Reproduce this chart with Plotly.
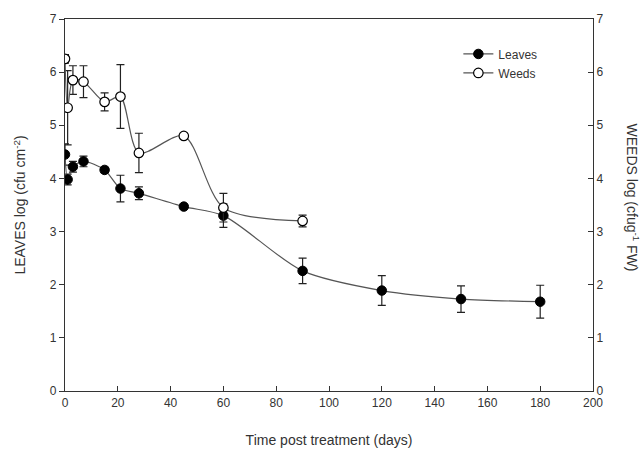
import plotly.graph_objects as go

leaves_x = [0, 1, 3, 7, 15, 21, 28, 45, 60, 90, 120, 150, 180]
leaves_y = [4.45, 3.98, 4.22, 4.32, 4.16, 3.81, 3.72, 3.47, 3.30, 2.26, 1.89, 1.73, 1.68]
leaves_err = [0.2, 0.1, 0.1, 0.1, 0.05, 0.25, 0.12, 0.04, 0.22, 0.24, 0.28, 0.25, 0.31]

weeds_x = [0, 1, 3, 7, 15, 21, 28, 45, 60, 90]
weeds_y = [6.25, 5.33, 5.85, 5.82, 5.44, 5.54, 4.48, 4.80, 3.45, 3.20]
weeds_err = [0.08, 0.7, 0.27, 0.3, 0.17, 0.6, 0.37, 0.05, 0.27, 0.11]

x_ticks = [0, 20, 40, 60, 80, 100, 120, 140, 160, 180, 200]
y_ticks = [0, 1, 2, 3, 4, 5, 6, 7]

FONT = "Liberation Sans, Arial, sans-serif"
TXT = "#333333"

fig = go.Figure()
fig.add_trace(go.Scatter(
    x=leaves_x, y=leaves_y, name="Leaves", mode="lines+markers",
    line=dict(color="#555555", width=1.2, shape="spline", smoothing=0.8),
    marker=dict(symbol="circle", size=9.5, color="black", line=dict(color="black", width=1)),
    error_y=dict(type="data", array=leaves_err, color="#222222", thickness=1.2, width=4),
))
fig.add_trace(go.Scatter(
    x=weeds_x, y=weeds_y, name="Weeds", mode="lines+markers", yaxis="y2",
    line=dict(color="#555555", width=1.2, shape="spline", smoothing=0.8),
    marker=dict(symbol="circle", size=9.5, color="white", line=dict(color="black", width=1.2)),
    error_y=dict(type="data", array=weeds_err, color="#222222", thickness=1.2, width=4),
))

fig.update_layout(
    width=642, height=461,
    margin=dict(l=65, r=49, t=14, b=70),
    paper_bgcolor="white", plot_bgcolor="white",
    font=dict(family=FONT, size=12, color=TXT),
    showlegend=True,
    legend=dict(x=0.745, y=0.945, xanchor="left", yanchor="top",
                bgcolor="rgba(0,0,0,0)", font=dict(size=12, color=TXT),
                tracegroupgap=4, itemwidth=30),
    xaxis=dict(range=[0, 200], tickvals=x_ticks, ticks="inside", ticklen=5,
               showgrid=False, zeroline=False, showline=True, linecolor="#333333",
               linewidth=1.2, mirror=True, tickcolor="#333333",
               title=dict(text="Time post treatment (days)", font=dict(size=14), standoff=26)),
    yaxis=dict(range=[0, 7], tickvals=y_ticks, ticks="outside", ticklen=5,
               showgrid=False, zeroline=False, showline=True, linecolor="#333333",
               linewidth=1.2, tickcolor="#333333",
               title=dict(text="LEAVES log (cfu cm<sup>-2</sup>)", font=dict(size=14), standoff=20)),
    yaxis2=dict(range=[0, 7], tickvals=y_ticks, ticks="inside", ticklen=5,
                overlaying="y", side="right", anchor="x",
                showgrid=False, zeroline=False, showline=True, linecolor="#333333",
                linewidth=1.2, tickcolor="#333333"),
    annotations=[dict(text="WEEDS log (cfug<sup>-1</sup> FW)", textangle=90,
                      xref="paper", yref="paper", x=1.0, y=0.52, xshift=40,
                      xanchor="center", yanchor="middle", showarrow=False,
                      font=dict(size=14, color=TXT))],
)

fig.write_html("out.html")
